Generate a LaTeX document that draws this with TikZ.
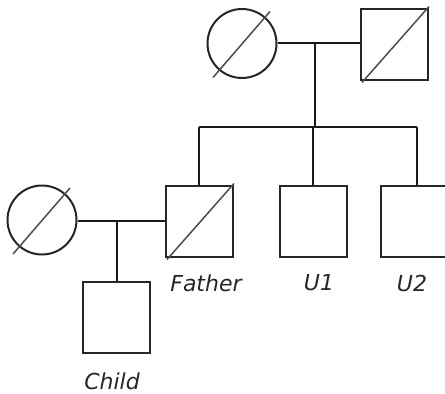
\documentclass[tikz,border=0pt]{standalone}
\usepackage{fontspec}
\setmainfont{DejaVu Sans}
\usetikzlibrary{calc}
\begin{document}
\begin{tikzpicture}[x=1pt,y=-1pt,
  person/.style={draw=black!85, line width=2pt, inner sep=0pt},
  female/.style={person, circle, minimum size=69pt},
  male/.style={person, rectangle, minimum width=67pt, minimum height=71pt},
  deceased/.style={draw=black!70, line width=1.5pt},
  tie/.style={draw=black!90, line width=2pt},
  personname/.style={font=\fontsize{22}{26}\selectfont\itshape, text=black!85}]
\useasboundingbox (0,0) rectangle (445,394);

% grandparents
\node[female] (gm) at (242,43.5) {};
\node[male]   (gf) at (394,44.5) {};
% second generation
\node[female] (mo) at (42,220) {};
\node[male]   (fa) at (199,221.5) {};
\node[male]   (u1) at (313,221.5) {};
\node[male]   (u2) at (414,221.5) {};
% third generation
\node[male]   (ch) at (116.5,317.5) {};

% deceased marks
\draw[deceased] ($(gm)+(-29,34)$) -- ($(gm)+(28,-32)$);
\draw[deceased] ($(gf)+(-32,38)$) -- ($(gf)+(35,-38)$);
\draw[deceased] ($(mo)+(-29,34)$) -- ($(mo)+(28,-32)$);
\draw[deceased] ($(fa)+(-32,38)$) -- ($(fa)+(35,-38)$);

% unions and descent
\coordinate (gu) at (315,43);
\coordinate (sl) at (199,127);
\coordinate (sr) at (417,127);
\draw[tie] (gm.east |- gu) -- (gf.west |- gu);
\draw[tie] (gu) -- (gu |- sl);
\draw[tie] (sl) -- (sr);
\draw[tie] (sl) -- (fa.north);
\draw[tie] (u1.north |- sl) -- (u1.north);
\draw[tie] (sr) -- (sr |- u2.north);

\coordinate (pu) at (117,221);
\draw[tie] (mo.east |- pu) -- (fa.west |- pu);
\draw[tie] (pu) -- (pu |- ch.north);

% names
\node[personname] (lfa) at (206,283) {Father};
\node[personname] (lu1) at (319,283) {U1};
\node[personname] (lu2) at (412,283) {U2};
\node[personname] (lch) at (112,381) {Child};
\end{tikzpicture}
\end{document}
